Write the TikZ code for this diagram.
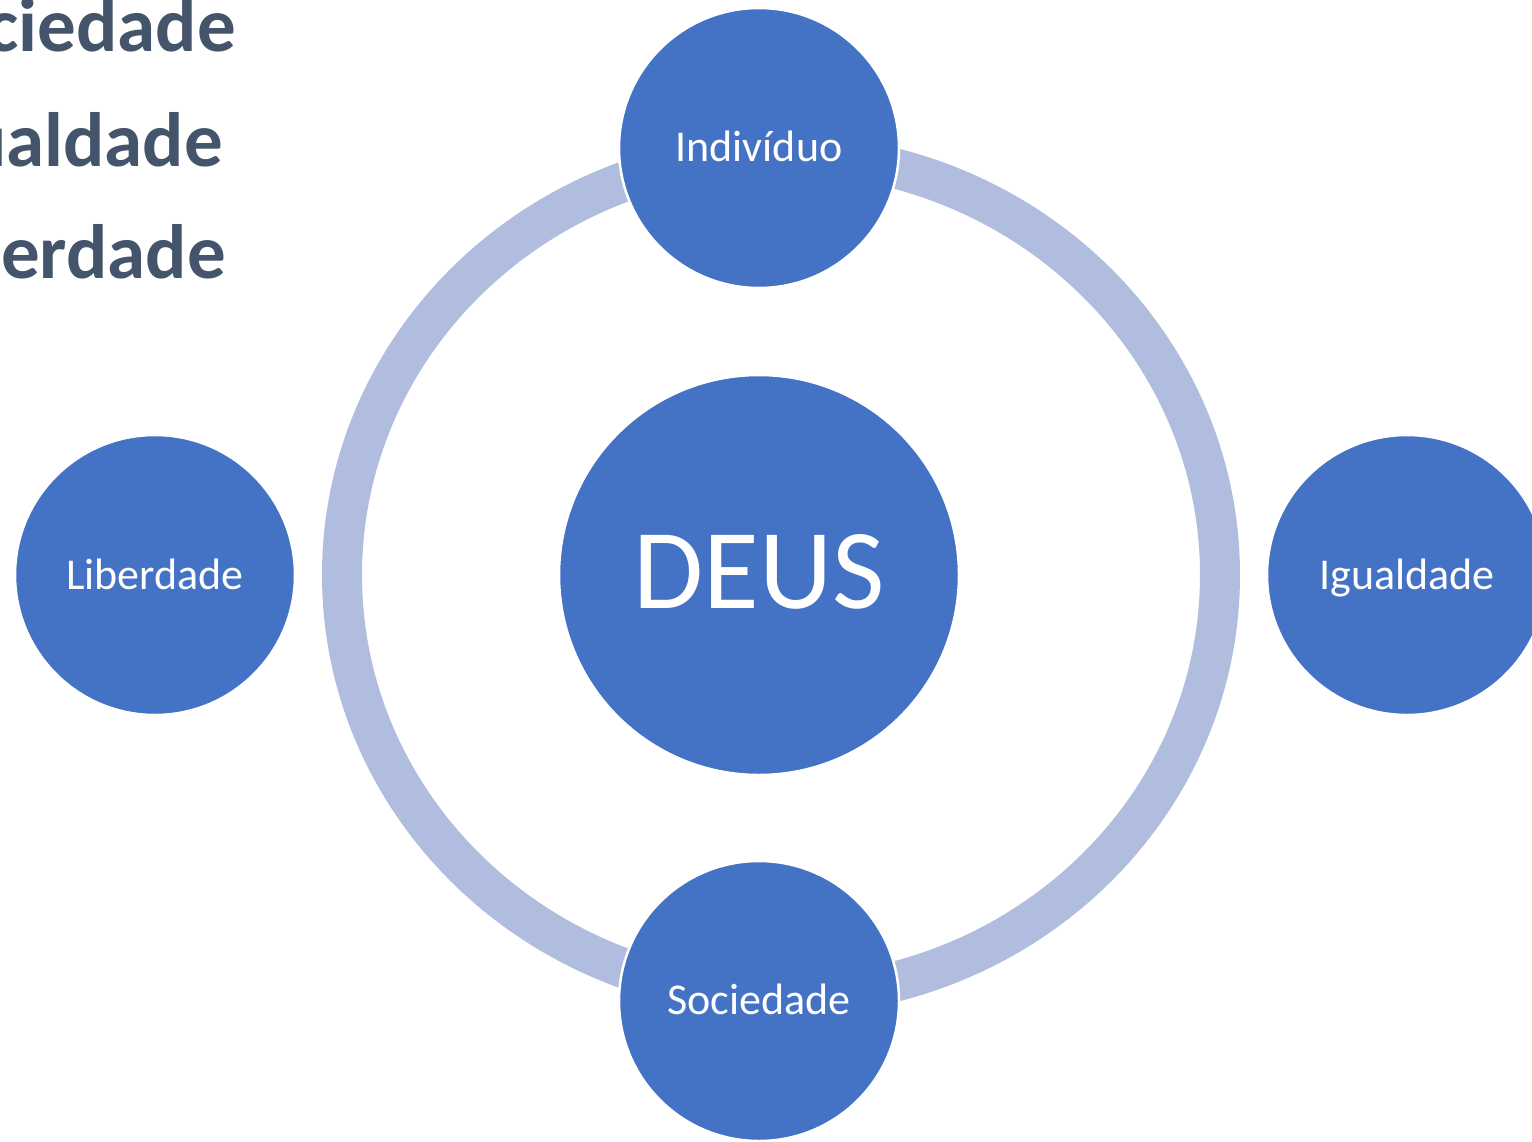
\documentclass[tikz,border=0pt]{standalone}
\usepackage{fontspec}
\setmainfont{Carlito}
\definecolor{bubblue}{HTML}{4472C4}
\definecolor{ringblue}{HTML}{B0BDDE}
\definecolor{slate}{HTML}{44546A}
\begin{document}
\begin{tikzpicture}[x=1pt,y=-1pt,
  bub/.style={circle,fill=bubblue,draw=white,line width=2.5pt,inner sep=0pt},
  lbl/.style={text=white,font=\fontsize{44}{50}\selectfont,inner sep=0pt,anchor=base},
  side/.style={text=slate,font=\fontsize{77}{80}\selectfont\bfseries,inner sep=0pt,anchor=base east}]
\useasboundingbox (0,0) rectangle (1532,1141);
\clip (0,0) rectangle (1532,1141);
\fill[white] (0,0) rectangle (1532,1141);
% side texts (cut off at left edge, as in the reference)
\node[side] (t1) at (236,51) {Sociedade};
\node[side] (t2) at (223,166) {Igualdade};
\node[side] (t3) at (226,278) {Liberdade};
% ring
\coordinate (rc) at (781,575);
\draw[ringblue,line width=40pt] (rc) ellipse [x radius=439, y radius=421];
% circles
\node[bub,minimum size=400pt] (deus) at (759,575) {};
\node[bub,minimum size=280pt] (ind) at (759,148) {};
\node[bub,minimum size=280pt] (soc) at (759,1001) {};
\node[bub,minimum size=280pt] (lib) at (155,575) {};
\node[bub,minimum size=280pt] (igu) at (1407,575) {};
% labels
\node[lbl,font=\fontsize{114}{120}\selectfont] (deust) at (759,608) {DEUS};
\node[lbl] (indt) at (759,161) {Indivíduo};
\node[lbl] (soct) at (759,1014) {Sociedade};
\node[lbl] (libt) at (155,589) {Liberdade};
\node[lbl] (igut) at (1407,589) {Igualdade};
\end{tikzpicture}
\end{document}
